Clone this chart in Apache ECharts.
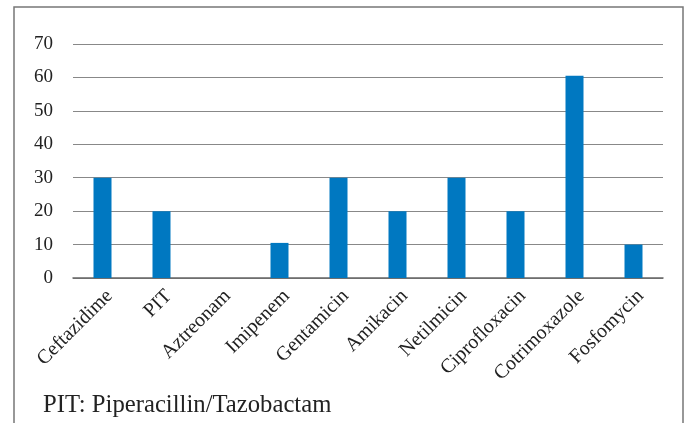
<!DOCTYPE html>
<html>
<head>
<meta charset="utf-8">
<script src="https://cdn.jsdelivr.net/npm/echarts@6/dist/echarts.min.js"></script>
<style>
  html, body { margin: 0; padding: 0; background: #fff; }
  #chart { width: 687px; height: 423px; }
</style>
</head>
<body>
<div id="chart"></div>
<script>
var drugs = ['Ceftazidime', 'PIT', 'Aztreonam', 'Imipenem', 'Gentamicin', 'Amikacin',
  'Netilmicin', 'Ciprofloxacin', 'Cotrimoxazole', 'Fosfomycin'];
var resistance = [30, 20, 0, 10.5, 30, 20, 30, 20, 60.5, 10];
var note = 'PIT: Piperacillin/Tazobactam';

var chart = echarts.init(document.getElementById('chart'));
var serif = '"Liberation Serif", "DejaVu Serif", serif';

option = {
  animation: false,
  textStyle: { fontFamily: serif },
  graphic: [{
    type: 'rect',
    shape: { x: 14, y: 7, width: 669, height: 430 },
    style: { fill: 'none', stroke: '#777', lineWidth: 1.5 }
  }, {
    type: 'text',
    left: 43,
    top: 393,
    style: { text: note, font: '24.7px ' + serif, fill: '#222' }
  }],
  grid: { left: 73, right: 24, top: 44, bottom: 145 },
  xAxis: {
    type: 'category',
    data: drugs,
    axisTick: { show: false },
    axisLine: { lineStyle: { color: '#666', width: 1.5 } },
    axisLabel: {
      rotate: 45,
      interval: 0,
      fontSize: 20,
      color: '#222',
      fontFamily: serif,
      verticalAlign: 'top',
      margin: 8
    }
  },
  yAxis: {
    type: 'value',
    min: 0,
    max: 70,
    interval: 10,
    axisLine: { show: false },
    axisTick: { show: false },
    splitLine: { lineStyle: { color: '#888', width: 1.2 } },
    axisLabel: { fontSize: 19, color: '#222', fontFamily: serif, margin: 20 }
  },
  series: [{
    type: 'bar',
    data: resistance,
    barWidth: 18,
    itemStyle: { color: '#0078C1' }
  }]
};
chart.setOption(option);
</script>
</body>
</html>
